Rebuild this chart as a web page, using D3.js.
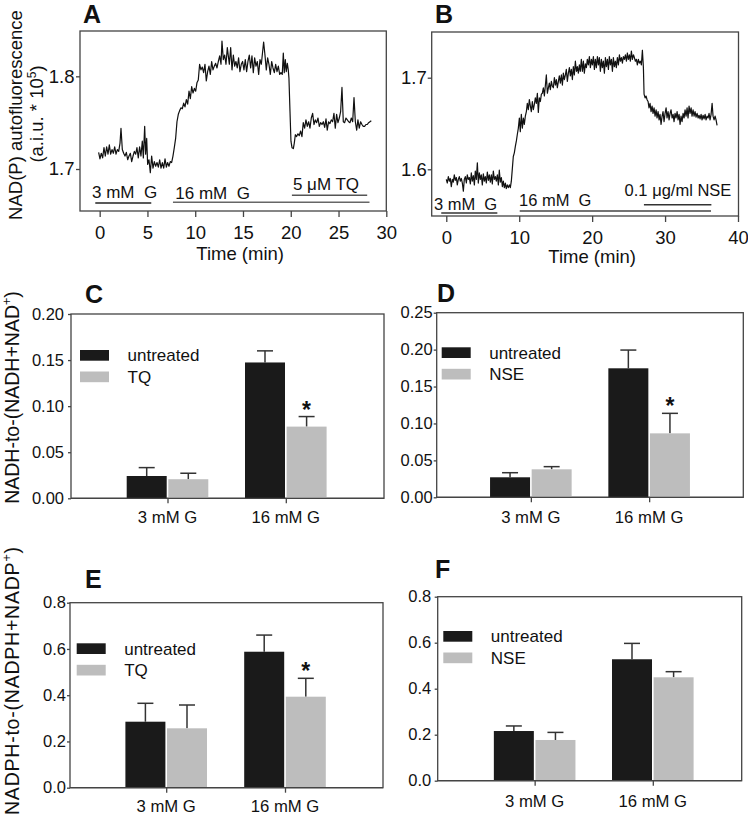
<!DOCTYPE html>
<html><head><meta charset="utf-8">
<script src="https://cdn.jsdelivr.net/npm/d3@7/dist/d3.min.js"></script>
<style>
body{margin:0;background:#fff}
svg{display:block}
text{font-family:"Liberation Sans",Arial,Helvetica,sans-serif;fill:#111}
</style></head>
<body><svg id="c" width="748" height="815"></svg>
<script>
// ---------------- DATA ----------------
const traceA = [[-0.11,1.718],[0.03,1.711],[0.17,1.717],[0.31,1.712],[0.45,1.723],[0.59,1.714],[0.73,1.724],[0.87,1.716],[1.01,1.726],[1.15,1.716],[1.29,1.721],[1.43,1.717],[1.57,1.724],[1.71,1.716],[1.85,1.721],[1.99,1.719],[2.13,1.728],[2.23,1.744],[2.37,1.721],[2.51,1.717],[2.65,1.714],[2.79,1.718],[2.93,1.710],[3.07,1.714],[3.21,1.717],[3.35,1.708],[3.49,1.714],[3.63,1.719],[3.77,1.716],[3.90,1.723],[4.04,1.712],[4.18,1.724],[4.32,1.714],[4.46,1.730],[4.57,1.712],[4.71,1.746],[4.81,1.716],[4.92,1.733],[5.02,1.705],[5.16,1.710],[5.30,1.696],[5.44,1.714],[5.58,1.701],[5.72,1.708],[5.86,1.703],[6.00,1.707],[6.14,1.702],[6.28,1.710],[6.42,1.701],[6.56,1.707],[6.70,1.701],[6.84,1.711],[6.98,1.702],[7.11,1.707],[7.25,1.703],[7.39,1.708],[7.53,1.707],[7.67,1.714],[7.81,1.723],[7.95,1.733],[8.09,1.751],[8.23,1.759],[8.37,1.763],[8.51,1.766],[8.65,1.765],[8.79,1.771],[8.93,1.767],[9.07,1.775],[9.21,1.770],[9.35,1.784],[9.49,1.776],[9.63,1.789],[9.77,1.782],[9.91,1.787],[10.05,1.784],[10.18,1.793],[10.32,1.796],[10.46,1.813],[10.60,1.807],[10.74,1.810],[10.88,1.804],[11.02,1.813],[11.16,1.795],[11.30,1.805],[11.44,1.811],[11.58,1.802],[11.72,1.816],[11.86,1.807],[12.00,1.811],[12.14,1.814],[12.28,1.809],[12.42,1.816],[12.56,1.822],[12.70,1.813],[12.80,1.838],[12.94,1.818],[13.08,1.823],[13.22,1.813],[13.36,1.831],
[13.57,1.813],[13.71,1.831],[13.85,1.807],[13.99,1.823],[14.13,1.811],[14.26,1.816],[14.40,1.809],[14.54,1.820],[14.68,1.805],[14.82,1.813],[14.96,1.816],[15.10,1.807],[15.24,1.818],[15.38,1.805],[15.52,1.816],[15.66,1.823],[15.80,1.809],[15.94,1.822],[16.08,1.804],[16.22,1.820],[16.36,1.811],[16.50,1.816],[16.64,1.802],[16.78,1.818],[16.92,1.813],[17.06,1.827],[17.16,1.837],[17.30,1.823],[17.44,1.807],[17.58,1.820],[17.72,1.813],[17.86,1.802],[18.00,1.816],[18.14,1.809],[18.28,1.804],[18.42,1.813],[18.56,1.805],[18.70,1.811],[18.84,1.802],[18.97,1.804],[19.11,1.802],[19.22,1.825],[19.32,1.804],[19.43,1.818],[19.53,1.805],[19.64,1.814],[19.74,1.807],[19.81,1.798],[19.92,1.762],[20.02,1.730],[20.13,1.723],[20.27,1.722],[20.37,1.728],[20.48,1.737],[20.61,1.735],[20.75,1.738],[20.89,1.736],[21.03,1.741],[21.17,1.735],[21.31,1.750],[21.45,1.744],[21.59,1.753],[21.73,1.746],[21.87,1.751],[22.01,1.744],[22.15,1.755],[22.29,1.760],[22.43,1.748],[22.57,1.753],[22.71,1.750],[22.85,1.755],[22.99,1.746],[23.13,1.750],[23.27,1.748],[23.41,1.751],[23.55,1.745],[23.69,1.754],[23.82,1.742],[23.96,1.751],[24.10,1.749],[24.24,1.753],[24.38,1.751],[24.52,1.760],[24.66,1.744],[24.80,1.759],[24.94,1.750],[25.08,1.755],[25.22,1.762],[25.36,1.788],[25.50,1.751],[25.64,1.750],[25.78,1.755],[25.92,1.753],[26.06,1.751],[26.20,1.750],[26.34,1.755],[26.48,1.751],[26.62,1.777],[26.76,1.751],[26.90,1.742],[27.03,1.753],[27.17,1.744],[27.31,1.751],[27.45,1.748],[27.59,1.746],[27.73,1.746],[27.87,1.748],[28.01,1.748],[28.15,1.750],[28.29,1.751],[28.43,1.752]];

const traceB = [[0.00,1.589],[0.14,1.585],[0.28,1.592],[0.42,1.587],[0.55,1.590],[0.69,1.581],[0.83,1.589],[0.96,1.586],[1.10,1.594],[1.24,1.588],[1.38,1.591],[1.51,1.583],[1.65,1.589],[1.79,1.592],[1.92,1.587],[2.06,1.590],[2.20,1.585],[2.34,1.576],[2.47,1.589],[2.61,1.592],[2.75,1.585],[2.88,1.594],[3.02,1.589],[3.16,1.591],[3.30,1.584],[3.43,1.596],[3.57,1.587],[3.71,1.593],[3.85,1.583],[3.98,1.598],[4.12,1.589],[4.26,1.607],[4.39,1.585],[4.53,1.596],[4.67,1.589],[4.80,1.594],[4.94,1.583],[5.08,1.595],[5.22,1.587],[5.35,1.592],[5.49,1.585],[5.63,1.597],[5.77,1.588],[5.90,1.594],[6.04,1.586],[6.18,1.594],[6.31,1.584],[6.45,1.598],[6.59,1.589],[6.73,1.592],[6.86,1.587],[7.00,1.594],[7.14,1.583],[7.27,1.599],[7.41,1.586],[7.55,1.591],[7.69,1.581],[7.82,1.587],[7.96,1.580],[8.10,1.585],[8.23,1.579],[8.37,1.583],[8.51,1.580],[8.65,1.583],[8.78,1.580],[8.92,1.587],[9.06,1.601],[9.19,1.614],[9.33,1.618],[9.47,1.625],[9.61,1.631],[9.74,1.638],[9.88,1.645],[10.02,1.656],[10.15,1.641],[10.29,1.660],[10.43,1.645],[10.57,1.656],[10.70,1.649],[10.84,1.658],[10.98,1.663],[11.11,1.672],[11.25,1.665],[11.39,1.676],[11.53,1.669],[11.66,1.663],[11.80,1.674],[11.94,1.665],[12.08,1.671],[12.21,1.678],[12.35,1.672],[12.49,1.683],[12.62,1.662],[12.76,1.678],[12.90,1.674],[13.04,1.682],[13.17,1.683],[13.31,1.689],[13.45,1.680],[13.58,1.691],[13.72,1.703],[13.86,1.683],[14.00,1.689],[14.13,1.694],[14.27,1.687],[14.41,1.696],[14.54,1.691],[14.68,1.689],[14.82,1.700],[14.96,1.692],[15.09,1.698],[15.23,1.689],[15.37,1.696],[15.50,1.702],[15.64,1.694],[15.78,1.703],[15.92,1.692],[16.05,1.705],[16.19,1.698],[16.33,1.703],[16.46,1.709],[16.60,1.696],[16.74,1.705],[16.88,1.711],[17.01,1.702],[17.15,1.709],[17.29,1.698],[17.42,1.712],[17.56,1.703],[17.70,1.718],[17.84,1.707],[17.97,1.712],[18.11,1.705],[18.25,1.714],[18.38,1.707],[18.52,1.720],[18.66,1.707],[18.80,1.718],[18.93,1.705],[19.07,1.715],[19.21,1.711],[19.34,1.720],
[19.48,1.714],[19.62,1.723],[19.76,1.711],[19.90,1.720],[20.03,1.714],[20.17,1.723],[20.31,1.709],[20.44,1.720],[20.58,1.711],[20.72,1.723],[20.86,1.714],[20.99,1.722],[21.13,1.707],[21.27,1.720],[21.40,1.711],[21.54,1.718],[21.68,1.705],[21.82,1.722],[21.95,1.712],[22.09,1.720],[22.23,1.709],[22.36,1.723],[22.50,1.714],[22.64,1.720],[22.78,1.707],[22.91,1.722],[23.05,1.712],[23.19,1.718],[23.32,1.711],[23.46,1.722],[23.60,1.714],[23.74,1.725],[23.87,1.718],[24.01,1.722],[24.15,1.716],[24.28,1.723],[24.42,1.720],[24.56,1.725],[24.70,1.718],[24.83,1.727],[24.97,1.720],[25.11,1.725],[25.24,1.718],[25.38,1.729],[25.52,1.720],[25.66,1.725],[25.79,1.722],[25.93,1.718],[26.07,1.720],[26.20,1.714],[26.34,1.720],[26.48,1.716],[26.62,1.718],[26.75,1.714],[26.89,1.730],[27.03,1.711],[27.12,1.682],[27.26,1.678],[27.39,1.680],[27.53,1.676],[27.67,1.674],[27.80,1.667],[27.94,1.672],[28.08,1.663],[28.22,1.669],[28.35,1.661],[28.49,1.667],[28.63,1.658],[28.77,1.665],[28.90,1.656],[29.04,1.663],[29.18,1.654],[29.31,1.660],[29.45,1.649],[29.59,1.658],[29.72,1.663],[29.86,1.652],[30.00,1.661],[30.14,1.667],[30.27,1.656],[30.41,1.663],[30.55,1.654],[30.69,1.661],[30.82,1.665],[30.96,1.656],[31.10,1.660],[31.23,1.652],[31.37,1.661],[31.51,1.656],[31.65,1.663],[31.78,1.654],[31.92,1.660],[32.06,1.649],[32.19,1.658],[32.33,1.652],[32.47,1.661],[32.61,1.656],[32.74,1.665],[32.88,1.658],[33.02,1.667],[33.15,1.656],[33.29,1.669],[33.43,1.661],[33.57,1.667],[33.70,1.658],[33.84,1.665],[33.98,1.658],[34.11,1.663],[34.25,1.657],[34.39,1.661],[34.53,1.656],[34.66,1.659],[34.80,1.655],[34.94,1.660],[35.07,1.654],[35.21,1.659],[35.35,1.655],[35.49,1.660],[35.62,1.654],[35.76,1.658],[35.90,1.656],[36.03,1.661],[36.17,1.654],[36.31,1.660],[36.45,1.672],[36.58,1.658],[36.72,1.654],[36.86,1.658],[36.99,1.654],[37.13,1.648]];

const xTicksA = [0, 5, 10, 15, 20, 25, 30];
const yTicksA = [1.7, 1.8];
const xTicksB = [0, 10, 20, 30, 40];
const yTicksB = [1.6, 1.7];

const protocolA = [
  {label: "3 mM  G", start: -0.46, end: 5.40},
  {label: "16 mM  G", start: 7.67, end: 28.24},
  {label: "5 \u03bcM TQ", start: 20.12, end: 28.00}
];
const protocolB = [
  {label: "3 mM  G", start: -0.69, end: 7.00},
  {label: "16 mM  G", start: 10.07, end: 36.30},
  {label: "0.1 \u03bcg/ml NSE", start: 27.10, end: 36.35}
];

const categories = ["3 mM G", "16 mM G"];

const groupsC = ["untreated", "TQ"];
const meanC = {untreated: [0.0242, 0.1474], TQ: [0.0207, 0.0778]};
const semC  = {untreated: [0.0091, 0.0126], TQ: [0.0065, 0.0109]};
const sigC  = {TQ: [false, true]};
const yTicksC = [0, 0.05, 0.10, 0.15, 0.20];

const groupsD = ["untreated", "NSE"];
const meanD = {untreated: [0.0271, 0.1747], NSE: [0.0379, 0.0866]};
const semD  = {untreated: [0.0062, 0.0247], NSE: [0.0036, 0.0271]};
const sigD  = {NSE: [false, true]};
const yTicksD = [0, 0.05, 0.10, 0.15, 0.20, 0.25];

const groupsE = ["untreated", "TQ"];
const meanE = {untreated: [0.2854, 0.588], TQ: [0.2568, 0.3935]};
const semE  = {untreated: [0.0796, 0.072], TQ: [0.1008, 0.0795]};
const sigE  = {TQ: [false, true]};
const yTicksE = [0, 0.2, 0.4, 0.6, 0.8];

const groupsF = ["untreated", "NSE"];
const meanF = {untreated: [0.216, 0.528], NSE: [0.177, 0.4496]};
const semF  = {untreated: [0.022, 0.069], NSE: [0.033, 0.0244]};
const sigF  = {NSE: [false, false]};
const yTicksF = [0, 0.2, 0.4, 0.6, 0.8];

// ---------------- DRAWING ----------------
const svg = d3.select("#c");
const FRAME = "#444";

function panelLabel(txt, x, y) {
  svg.append("text").attr("x", x).attr("y", y).attr("font-size", 25)
    .attr("font-weight", "bold").attr("fill", "#000").text(txt);
}

function frame(b) {
  svg.append("rect").attr("x", b[0]).attr("y", b[1])
    .attr("width", b[2] - b[0]).attr("height", b[3] - b[1])
    .attr("fill", "none").attr("stroke", FRAME).attr("stroke-width", 1.3);
}

function styleAxis(g, fs) {
  g.select(".domain").remove();
  g.selectAll(".tick line").attr("stroke", FRAME).attr("stroke-width", 1.3);
  g.selectAll(".tick text").attr("font-size", fs).attr("fill", "#111")
    .attr("font-family", '"Liberation Sans",Arial,sans-serif');
  g.attr("font-family", null).attr("font-size", null);
}

function tracePanel(o) {
  const b = o.box;
  const x = d3.scaleLinear().domain(o.xDomain).range(o.xRange);
  const y = d3.scaleLinear().domain(o.yDomain).range([b[3], b[1]]);
  frame(b);
  const gx = svg.append("g").attr("transform", `translate(0,${b[3]})`)
    .call(d3.axisBottom(x).tickValues(o.xTicks).tickSize(6).tickPadding(o.xPad).tickFormat(d3.format("d")));
  styleAxis(gx, o.tickFs);
  const gy = svg.append("g").attr("transform", `translate(${b[0]},0)`)
    .call(d3.axisLeft(y).tickValues(o.yTicks).tickSize(4).tickPadding(o.yPad).tickFormat(d3.format(".1f")));
  styleAxis(gy, o.tickFs);
  // trace
  svg.append("path").datum(o.trace)
    .attr("d", d3.line().x(d => x(d[0])).y(d => y(d[1])))
    .attr("fill", "none").attr("stroke", "#111").attr("stroke-width", 1.2)
    .attr("stroke-linejoin", "round");
  // protocol bars
  o.protocol.forEach((p, i) => {
    const L = o.protoLayout[i];
    svg.append("line").attr("x1", x(p.start)).attr("x2", x(p.end))
      .attr("y1", L.lineY).attr("y2", L.lineY)
      .attr("stroke", L.color).attr("stroke-width", 1.6);
    svg.append("text").attr("x", x(p.start) + L.dx).attr("y", L.textY)
      .attr("font-size", o.protoFs).style("white-space", "pre").text(p.label);
  });
  // x title
  svg.append("text").attr("x", x(o.titleAt)).attr("y", o.titleY)
    .attr("text-anchor", "middle").attr("font-size", 18.5).text("Time (min)");
}

tracePanel({
  box: [80, 31, 386.3, 211], xDomain: [-2.06, 30], xRange: [80, 386.3],
  yDomain: [1.6547, 1.8489], xTicks: xTicksA, yTicks: yTicksA,
  xPad: 9, yPad: 1.5, tickFs: 18.5, trace: traceA, protocol: protocolA,
  protoFs: 17,
  protoLayout: [
    {lineY: 203, dx: -3.3, textY: 198, color: "#222"},
    {lineY: 202.3, dx: 2.3, textY: 198.5, color: "#666"},
    {lineY: 195.3, dx: 1, textY: 189.7, color: "#555"}
  ],
  titleAt: 14.7, titleY: 260
});

tracePanel({
  box: [431.7, 32, 738.5, 216], xDomain: [-2, 40], xRange: [431.7, 738],
  yDomain: [1.549, 1.7499], xTicks: xTicksB, yTicks: yTicksB,
  xPad: 9, yPad: 1, tickFs: 18.5, trace: traceB, protocol: protocolB,
  protoFs: 16.5,
  protoLayout: [
    {lineY: 213, dx: -7.3, textY: 209.5, color: "#333"},
    {lineY: 211, dx: -0.7, textY: 206, color: "#444"},
    {lineY: 204.7, dx: -19.3, textY: 196, color: "#333"}
  ],
  titleAt: 20, titleY: 263
});

// A y-label (two lines)
svg.append("text").attr("transform", "translate(22,115) rotate(-90)")
  .attr("text-anchor", "middle").attr("font-size", 18.5).text("NAD(P) autofluorescence");
const yl2 = svg.append("text").attr("transform", "translate(43,114) rotate(-90)")
  .attr("text-anchor", "middle").attr("font-size", 18.5);
yl2.append("tspan").text("(a.i.u. * 10");
yl2.append("tspan").attr("font-size", 12).attr("dy", -7).text("5");
yl2.append("tspan").attr("dy", 7).text(")");

panelLabel("A", 83, 23);
panelLabel("B", 435, 23);

function barPanel(o) {
  const b = o.box;
  const y = d3.scaleLinear().domain([0, o.yTicks[o.yTicks.length - 1]]).range([b[3], b[1]]);
  const cx = d3.scalePoint().domain(categories).range(o.centers);
  const sub = d3.scaleBand().domain(o.groups).range([-40.8, 40.8]).paddingInner(0.0385);
  const colors = ["#1a1a1a", "#bdbdbd"];
  frame(b);
  const gy = svg.append("g").attr("transform", `translate(${b[0]},0)`)
    .call(d3.axisLeft(y).tickValues(o.yTicks).tickSize(3).tickPadding(o.yPad).tickFormat(d3.format(o.fmt)));
  styleAxis(gy, 16.5);
  const gx = svg.append("g").attr("transform", `translate(0,${b[3]})`)
    .call(d3.axisBottom(cx).tickSize(5).tickPadding(0).tickFormat(""));
  styleAxis(gx, 16.5);
  categories.forEach(c => {
    svg.append("text").attr("x", cx(c)).attr("y", b[3] + o.catDy)
      .attr("text-anchor", "middle").attr("font-size", 16.7).text(c);
  });
  o.groups.forEach((g, gi) => {
    categories.forEach((c, ci) => {
      const m = o.mean[g][ci], s = o.sem[g][ci];
      const x0 = cx(c) + sub(g), w = sub.bandwidth();
      const xm = x0 + w / 2;
      // error bar (upper only)
      svg.append("line").attr("x1", xm).attr("x2", xm).attr("y1", y(m)).attr("y2", y(m + s))
        .attr("stroke", "#333").attr("stroke-width", 1.5);
      svg.append("line").attr("x1", xm - 8).attr("x2", xm + 8).attr("y1", y(m + s)).attr("y2", y(m + s))
        .attr("stroke", "#333").attr("stroke-width", 1.5);
      svg.append("rect").attr("x", x0).attr("y", y(m)).attr("width", w)
        .attr("height", y(0) - y(m)).attr("fill", colors[gi]);
      if (o.sig[g] && o.sig[g][ci]) {
        svg.append("text").attr("x", xm).attr("y", y(m + s) + 1)
          .attr("text-anchor", "middle").attr("font-size", 23).attr("font-weight", "bold").text("*");
      }
    });
    // legend
    const ly = o.legend[1] + gi * 21.5;
    svg.append("rect").attr("x", o.legend[0]).attr("y", ly).attr("width", 29).attr("height", 10.7)
      .attr("fill", colors[gi]);
    svg.append("text").attr("x", o.legend[0] + 47.5).attr("y", ly + 5.3).attr("dy", "0.35em")
      .attr("font-size", 17).text(g);
  });
  // redraw baseline over bars
  svg.append("line").attr("x1", b[0]).attr("x2", b[2]).attr("y1", b[3]).attr("y2", b[3])
    .attr("stroke", FRAME).attr("stroke-width", 1.3);
}

barPanel({box: [71, 314, 384, 498.3], centers: [167.5, 285.8], groups: groupsC, catDy: 25,
  mean: meanC, sem: semC, sig: sigC, yTicks: yTicksC, fmt: ".2f", yPad: 4, legend: [80, 350]});
barPanel({box: [436.7, 312.7, 743.3, 497.3], centers: [530.85, 649.15], groups: groupsD, catDy: 26,
  mean: meanD, sem: semD, sig: sigD, yTicks: yTicksD, fmt: ".2f", yPad: 1, legend: [441.7, 347.3]});
barPanel({box: [70, 602.7, 383, 787.7], centers: [166.2, 285], groups: groupsE, catDy: 24.5,
  mean: meanE, sem: semE, sig: sigE, yTicks: yTicksE, fmt: ".1f", yPad: 1, legend: [76.7, 643.3]});
barPanel({box: [437.7, 596.7, 741.7, 780.7], centers: [534.65, 652.8], groups: groupsF, catDy: 26.5,
  mean: meanF, sem: semF, sig: sigF, yTicks: yTicksF, fmt: ".1f", yPad: 3.5, legend: [443.3, 631]});

// y labels for bar panels
const ylC = svg.append("text").attr("transform", "translate(19,397.5) rotate(-90)")
  .attr("text-anchor", "middle").attr("font-size", 19.5);
ylC.append("tspan").text("NADH-to-(NADH+NAD");
ylC.append("tspan").attr("font-size", 12.5).attr("dy", -8).text("+");
ylC.append("tspan").attr("dy", 8).text(")");

const ylE = svg.append("text").attr("transform", "translate(19,681) rotate(-90)")
  .attr("text-anchor", "middle").attr("font-size", 19.5)
  .attr("textLength", 268).attr("lengthAdjust", "spacing");
ylE.append("tspan").text("NADPH-to-(NADPH+NADP");
ylE.append("tspan").attr("font-size", 12.5).attr("dy", -8).text("+");
ylE.append("tspan").attr("dy", 8).text(")");

panelLabel("C", 85, 303);
panelLabel("D", 437, 302);
panelLabel("E", 85, 588);
panelLabel("F", 435, 578);
</script>
</body></html>
